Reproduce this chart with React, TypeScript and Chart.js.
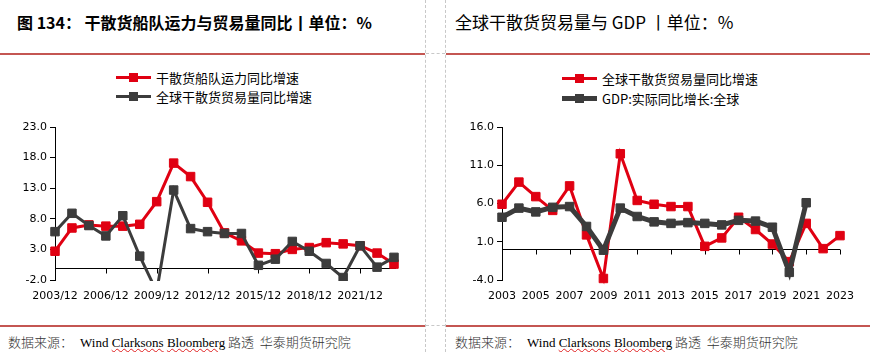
import React, { useEffect, useRef } from 'react';
import { Chart, registerables } from 'chart.js';

Chart.register(...registerables);

// ---------- Data ----------
const leftYears = ['2003', '2004', '2005', '2006', '2007', '2008', '2009', '2010', '2011', '2012', '2013', '2014', '2015', '2016', '2017', '2018', '2019', '2020', '2021', '2022', '2023'];
const fleetGrowth = [2.7, 6.5, 7.0, 6.8, 6.8, 7.1, 10.8, 17.1, 14.9, 10.7, 5.7, 4.4, 2.4, 2.3, 3.0, 3.3, 4.1, 3.9, 3.6, 2.4, 0.6];
const bulkTradeGrowthLeft = [5.9, 8.9, 6.9, 5.2, 8.5, 1.9, -3.9, 12.7, 6.4, 5.9, 5.6, 5.6, 0.4, 1.4, 4.3, 2.7, 0.7, -1.6, 3.6, 0.1, 1.7];

const rightYears = ['2003', '2004', '2005', '2006', '2007', '2008', '2009', '2010', '2011', '2012', '2013', '2014', '2015', '2016', '2017', '2018', '2019', '2020', '2021', '2022', '2023'];
const bulkTradeGrowthRight = [5.9, 8.8, 6.9, 5.1, 8.3, 1.9, -3.8, 12.5, 6.4, 5.9, 5.6, 5.6, 0.4, 1.5, 4.2, 2.6, 0.7, -1.6, 3.4, 0.1, 1.8];
const gdpGrowth = [4.2, 5.4, 4.9, 5.5, 5.6, 3.0, -0.1, 5.4, 4.3, 3.6, 3.4, 3.5, 3.4, 3.2, 3.8, 3.7, 2.9, -3.0, 6.1, null, null];

const leftTitle = '图 134： 干散货船队运力与贸易量同比丨单位：%';
const rightTitle = '全球干散货贸易量与 GDP 丨单位：%';
const leftLegend = ['干散货船队运力同比增速', '全球干散货贸易量同比增速'];
const rightLegend = ['全球干散货贸易量同比增速', 'GDP:实际同比增长:全球'];

const RED = '#E00012';
const DARK = '#3C3C3C';
const RULE = '#C45652';
const TICK_FONT = { family: '"DejaVu Sans", Verdana, sans-serif', size: 11 };

function zeroAxisPlugin(every: number, extraRight: number) {
  return {
    id: 'zeroAxis',
    beforeDatasetsDraw(chart: any) {
      const { ctx, chartArea, scales } = chart;
      const x = scales.x;
      const y = scales.y;
      const y0 = Math.round(y.getPixelForValue(0)) + 0.5;
      ctx.save();
      ctx.strokeStyle = '#000';
      ctx.lineWidth = 1;
      ctx.beginPath();
      ctx.moveTo(chartArea.left, y0);
      ctx.lineTo(chartArea.right + extraRight, y0);
      const n = chart.data.labels.length;
      for (let i = 0; i < n; i += every) {
        const px = Math.round(x.getPixelForValue(i)) + 0.5;
        ctx.moveTo(px, y0);
        ctx.lineTo(px, y0 + 5);
      }
      ctx.stroke();
      ctx.restore();
    },
  };
}

function makeConfig(opts: {
  labels: string[];
  datasets: any[];
  min: number;
  max: number;
  every: number;
  labelFmt: (s: string) => string;
  padTop: number;
  padRight: number;
  yWidth: number;
  extraRight: number;
}) {
  return {
    type: 'line' as const,
    data: { labels: opts.labels, datasets: opts.datasets },
    options: {
      animation: false as const,
      responsive: false,
      layout: { padding: { top: opts.padTop, right: opts.padRight, left: 0, bottom: 0 } },
      plugins: { legend: { display: false }, tooltip: { enabled: false } },
      scales: {
        x: {
          type: 'category' as const,
          offset: false,
          grid: { display: false, drawTicks: false },
          border: { display: false },
          ticks: {
            autoSkip: false,
            maxRotation: 0,
            minRotation: 0,
            padding: 10,
            color: '#000',
            font: TICK_FONT,
            callback: (_v: any, i: number) => (i % opts.every === 0 ? opts.labelFmt(opts.labels[i]) : ''),
          },
          afterFit: (s: any) => {
            s.height = 30;
          },
        },
        y: {
          min: opts.min,
          max: opts.max,
          ticks: {
            stepSize: 5,
            padding: 3,
            color: '#000',
            font: TICK_FONT,
            callback: (v: any) => Number(v).toFixed(1),
          },
          grid: { drawOnChartArea: false, drawTicks: true, tickLength: 5, color: '#000' },
          border: { display: true, color: '#000' },
          afterFit: (s: any) => {
            s.width = opts.yWidth;
          },
        },
      },
    },
    plugins: [zeroAxisPlugin(opts.every, opts.extraRight)],
  };
}

function lineDs(label: string, data: (number | null)[], color: string, width: number, order: number, clip: any) {
  return {
    label,
    data,
    borderColor: color,
    backgroundColor: color,
    borderWidth: width,
    pointStyle: 'rect',
    pointRadius: 6,
    pointBorderWidth: 1,
    pointBorderColor: color,
    pointBackgroundColor: color,
    tension: 0,
    spanGaps: false,
    order,
    clip,
  };
}

function LegendRow({ color, text, lineW, top, left }: { color: string; text: string; lineW: number; top: number; left: number }) {
  return (
    <div style={{ position: 'absolute', left, top, height: 20, display: 'flex', alignItems: 'center', whiteSpace: 'nowrap' }}>
      <div style={{ position: 'relative', width: 35, height: 20, marginRight: 5 }}>
        <div style={{ position: 'absolute', left: 0, top: 10 - lineW / 2, width: 35, height: lineW, background: color }} />
        <div style={{ position: 'absolute', left: 13, top: 5.5, width: 9, height: 9, background: color }} />
      </div>
      <span style={{ fontSize: 13, color: '#000', fontFamily: '"Noto Sans CJK SC", sans-serif' }}>{text}</span>
    </div>
  );
}

function Footer({ left }: { left: number }) {
  return (
    <div style={{ position: 'absolute', left, top: 330, whiteSpace: 'nowrap', lineHeight: '20px' }}>
      <span style={{ fontFamily: '"Noto Sans CJK SC", sans-serif', fontSize: 13, color: '#333', fontWeight: 300 }}>数据来源：</span>
      <span style={{ fontFamily: '"Liberation Serif", "Times New Roman", serif', fontSize: 13, color: '#000', marginLeft: 7 }}>
        Wind{' '}
        <span style={{ textDecoration: 'underline wavy #E02020', textDecorationThickness: 1 }}>Clarksons</span>{' '}
        <span style={{ textDecoration: 'underline wavy #E02020', textDecorationThickness: 1 }}>Bloomberg</span>
      </span>
      <span style={{ fontFamily: '"Noto Sans CJK SC", sans-serif', fontSize: 13, color: '#333', fontWeight: 300 }}> 路透 &nbsp;华泰期货研究院</span>
    </div>
  );
}

export default function App() {
  const leftRef = useRef<HTMLCanvasElement>(null);
  const rightRef = useRef<HTMLCanvasElement>(null);

  useEffect(() => {
    const leftChart = new Chart(
      leftRef.current as HTMLCanvasElement,
      makeConfig({
        labels: leftYears,
        datasets: [
          lineDs(leftLegend[1], bulkTradeGrowthLeft, DARK, 3, 0, { left: 10, right: 10, top: 10, bottom: 1 }),
          lineDs(leftLegend[0], fleetGrowth, RED, 3, 1, { left: 10, right: 10, top: 10, bottom: 10 }),
        ],
        min: -2,
        max: 23,
        every: 3,
        labelFmt: (s) => s + '/12',
        padTop: 22,
        padRight: 31,
        yWidth: 55,
        extraRight: 2,
      }) as any
    );
    const rightChart = new Chart(
      rightRef.current as HTMLCanvasElement,
      makeConfig({
        labels: rightYears,
        datasets: [
          lineDs(rightLegend[1], gdpGrowth, DARK, 5, 0, false),
          lineDs(rightLegend[0], bulkTradeGrowthRight, RED, 3, 1, false),
        ],
        min: -4,
        max: 16,
        every: 2,
        labelFmt: (s) => s,
        padTop: 22,
        padRight: 30,
        yWidth: 57,
        extraRight: 0,
      }) as any
    );
    return () => {
      leftChart.destroy();
      rightChart.destroy();
    };
  }, []);

  return (
    <div
      style={{
        position: 'fixed',
        left: 0,
        top: 0,
        width: 870,
        height: 352,
        background: '#fff',
        overflow: 'hidden',
        fontFamily: '"Noto Sans CJK SC", sans-serif',
      }}
    >
      {/* separators */}
      <div style={{ position: 'absolute', left: 425, top: 0, width: 0, height: 352, borderLeft: '1px dashed #C8C8C8' }} />
      <div style={{ position: 'absolute', left: 445, top: 0, width: 0, height: 352, borderLeft: '1px dashed #C8C8C8' }} />
      <div style={{ position: 'absolute', left: 426, top: 53, width: 19, height: 0, borderTop: '1px dashed #C8C8C8' }} />
      <div style={{ position: 'absolute', left: 426, top: 325, width: 19, height: 0, borderTop: '1px dashed #C8C8C8' }} />
      <div style={{ position: 'absolute', left: 0, top: 53, width: 425, height: 1.5, background: RULE }} />
      <div style={{ position: 'absolute', left: 446, top: 53, width: 424, height: 1.5, background: RULE }} />
      <div style={{ position: 'absolute', left: 0, top: 325, width: 425, height: 1.5, background: RULE }} />
      <div style={{ position: 'absolute', left: 446, top: 325, width: 424, height: 1.5, background: RULE }} />

      {/* titles */}
      <div style={{ position: 'absolute', left: 17, top: 9, fontSize: 16, fontWeight: 700, lineHeight: '26px', whiteSpace: 'nowrap', color: '#000' }}>
        {leftTitle}
      </div>
      <div style={{ position: 'absolute', left: 455, top: 9, fontSize: 17, fontWeight: 400, lineHeight: '26px', whiteSpace: 'nowrap', color: '#000' }}>
        {rightTitle}
      </div>

      {/* legends */}
      <LegendRow color={RED} text={leftLegend[0]} lineW={3} top={67} left={116} />
      <LegendRow color={DARK} text={leftLegend[1]} lineW={3} top={86} left={116} />
      <LegendRow color={RED} text={rightLegend[0]} lineW={3} top={68} left={562} />
      <LegendRow color={DARK} text={rightLegend[1]} lineW={5} top={88} left={562} />

      {/* charts */}
      <canvas ref={leftRef} width={425} height={205} style={{ position: 'absolute', left: 0, top: 105, width: 425, height: 205 }} />
      <canvas ref={rightRef} width={425} height={205} style={{ position: 'absolute', left: 445, top: 105, width: 425, height: 205 }} />

      <Footer left={8} />
      <Footer left={455} />
    </div>
  );
}
